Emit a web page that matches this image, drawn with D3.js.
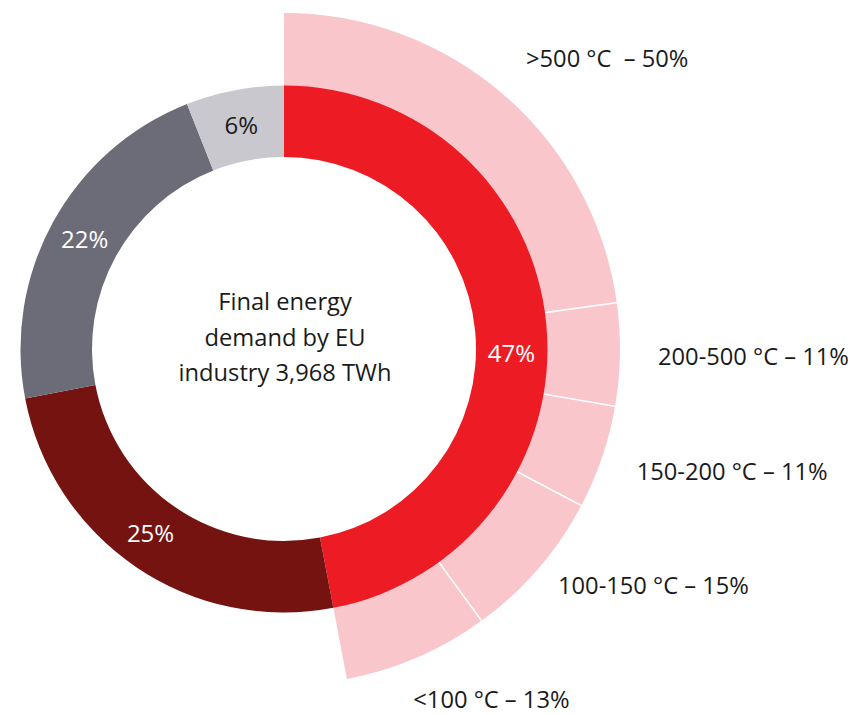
<!DOCTYPE html>
<html>
<head>
<meta charset="utf-8">
<script src="https://cdn.jsdelivr.net/npm/d3@7"></script>
<style>
  html, body { margin: 0; padding: 0; background: #ffffff; }
  svg { display: block; }
  text { font-family: "Open Sans", "Noto Sans", sans-serif; }
</style>
</head>
<body>
<svg id="chart" width="852" height="715"></svg>
<script>
// ---- data ----
const mainCategories = ["Heat share A", "Heat share B", "Heat share C", "Heat share D"];
const mainValues = [47, 25, 22, 6];
const mainLabels = ["47%", "25%", "22%", "6%"];
const mainColors = ["#ED1C24", "#751310", "#6C6B78", "#C8C8CE"];
const mainLabelColors = ["#ffffff", "#ffffff", "#ffffff", "#1a1a1a"];

const bandTemps = [">500 °C ", "200-500 °C", "150-200 °C", "100-150 °C", "<100 °C"];
const bandPercent = [50, 11, 11, 15, 13];
// share of the red slice each band actually sweeps in the picture
const bandArcShare = [48.5, 10.5, 10.6, 15.5, 14.9];

const centerLines = ["Final energy", "demand by EU", "industry 3,968 TWh"];

// ---- layout ----
const W = 852, H = 715;
const cx = 284, cy = 349;
const rIn = 192, rOut = 263.5, rBandOut = 336;

const svg = d3.select("#chart");
const g = svg.append("g").attr("transform", `translate(${cx},${cy})`);

const pie = d3.pie().sort(null).value(d => d).startAngle(0).endAngle(2 * Math.PI);
const mainArcs = pie(mainValues);
const arc = d3.arc().innerRadius(rIn).outerRadius(rOut);

// outer bands inside the red slice
const red = mainArcs[0];
const bandPie = d3.pie().sort(null).value(d => d)
  .startAngle(red.startAngle).endAngle(red.endAngle);
const bandArcs = bandPie(bandArcShare);
const bandArc = d3.arc().innerRadius(rOut - 0.5).outerRadius(rBandOut);

g.selectAll("path.band").data(bandArcs).join("path")
  .attr("class", "band")
  .attr("d", bandArc)
  .attr("fill", "#F9C6CC");

// separators between bands
g.selectAll("line.sep").data(bandArcs.slice(1)).join("line")
  .attr("class", "sep")
  .attr("x1", d => (rOut) * Math.sin(d.startAngle))
  .attr("y1", d => -(rOut) * Math.cos(d.startAngle))
  .attr("x2", d => (rBandOut + 1) * Math.sin(d.startAngle))
  .attr("y2", d => -(rBandOut + 1) * Math.cos(d.startAngle))
  .attr("stroke", "#ffffff")
  .attr("stroke-width", 1.6);

g.selectAll("path.main").data(mainArcs).join("path")
  .attr("class", "main")
  .attr("d", arc)
  .attr("fill", (d, i) => mainColors[i]);

// slice labels
const labelR = 227.5;
g.selectAll("text.pct").data(mainArcs).join("text")
  .attr("class", "pct")
  .attr("transform", (d, i) => {
    let a = (d.startAngle + d.endAngle) / 2;
    if (i === 0) a = Math.PI / 2 + 0.02;      // largest slice label sits level with centre
    if (i === 1) a += 0.03;                    // slight manual nudge as in the original
    return `translate(${labelR * Math.sin(a)},${-labelR * Math.cos(a)})`;
  })
  .attr("text-anchor", "middle")
  .attr("dy", "0.36em")
  .attr("font-size", 24)
  .attr("fill", (d, i) => mainLabelColors[i])
  .text((d, i) => mainLabels[i]);

// centre text
const ct = g.append("text")
  .attr("text-anchor", "middle")
  .attr("font-size", 23.7)
  .attr("fill", "#1a1a1a");
ct.selectAll("tspan").data(centerLines).join("tspan")
  .attr("x", 1)
  .attr("y", (d, i) => -39 + i * 35.5)
  .text(d => d);

// band labels
const bandLabelPos = [[526, 66.7], [658, 365], [636.7, 479.5], [558, 594], [413.3, 708]];
svg.selectAll("text.band-label").data(bandTemps).join("text")
  .attr("class", "band-label")
  .attr("x", (d, i) => bandLabelPos[i][0])
  .attr("y", (d, i) => bandLabelPos[i][1])
  .attr("font-size", 23.7)
  .attr("fill", "#1a1a1a")
  .style("white-space", "pre")
  .text((d, i) => `${d} – ${bandPercent[i]}%`);
</script>
</body>
</html>
